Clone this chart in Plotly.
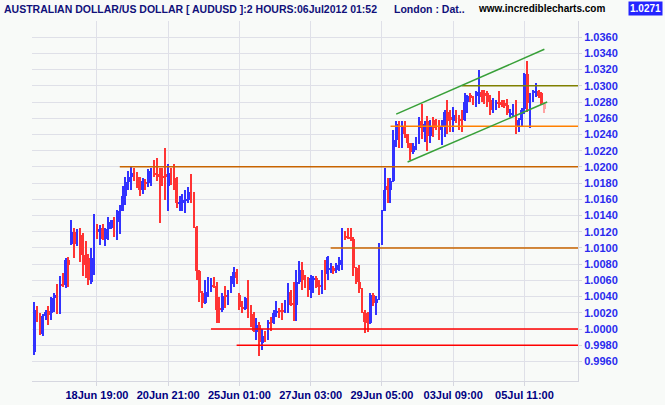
import plotly.graph_objects as go

# ---- OHLC data (2-hour bars, AUD/USD) ----
opens = [0.9972,1.0021,1.0014,0.9994,1.0016,1.0022,1.0020,1.0038,1.0040,1.0026,
         1.0055,1.0054,1.0085,1.0105,1.0120,1.0105,1.0121,1.0116,1.0091,1.0087,
         1.0058,1.0087,1.0127,1.0120,1.0124,1.0111,1.0123,1.0125,1.0133,1.0126,
         1.0132,1.0146,1.0164,1.0181,1.0187,1.0191,1.0187,1.0187,1.0171,1.0181,
         1.0180,1.0194,1.0195,1.0192,1.0191,1.0188,1.0191,1.0176,1.0192,1.0193,
         1.0186,1.0155,1.0155,1.0159,1.0159,1.0169,1.0167,1.0126,1.0071,1.0045,
         1.0032,1.0046,1.0048,1.0054,1.0053,1.0026,1.0024,1.0041,1.0040,1.0046,
         1.0056,1.0070,1.0042,1.0027,1.0025,1.0038,1.0017,1.0019,0.9996,1.0005,
         0.9983,0.9991,0.9989,1.0008,1.0007,1.0020,1.0024,1.0024,1.0021,1.0033,
         1.0046,1.0032,1.0030,1.0058,1.0073,1.0063,1.0058,1.0048,1.0061,1.0063,
         1.0054,1.0053,1.0070,1.0068,1.0073,1.0075,1.0073,1.0079,1.0085,1.0115,
         1.0115,1.0113,1.0111,1.0075,1.0058,1.0048,1.0021,1.0020,1.0007,1.0042,
         1.0032,1.0037,1.0104,1.0146,1.0176,1.0171,1.0182,1.0233,1.0250,1.0233,
         1.0250,1.0241,1.0229,1.0218,1.0226,1.0229,1.0256,1.0243,1.0256,1.0238,
         1.0258,1.0258,1.0252,1.0245,1.0250,1.0268,1.0262,1.0256,1.0260,1.0260,
         1.0259,1.0258,1.0280,1.0289,1.0285,1.0280,1.0287,1.0292,1.0291,1.0291,
         1.0282,1.0272,1.0276,1.0280,1.0280,1.0279,1.0276,1.0264,1.0266,1.0268,
         1.0250,1.0258,1.0271,1.0314,1.0272,1.0286,1.0292,1.0293,1.0291,1.0278]
highs = [1.0033,1.0028,1.0020,1.0019,1.0023,1.0028,1.0040,1.0044,1.0055,1.0065,
         1.0069,1.0087,1.0089,1.0134,1.0124,1.0123,1.0124,1.0118,1.0108,1.0093,
         1.0100,1.0142,1.0129,1.0128,1.0129,1.0124,1.0138,1.0135,1.0138,1.0147,
         1.0153,1.0176,1.0188,1.0195,1.0200,1.0198,1.0194,1.0187,1.0186,1.0185,
         1.0197,1.0199,1.0208,1.0211,1.0199,1.0198,1.0223,1.0204,1.0199,1.0204,
         1.0187,1.0164,1.0167,1.0171,1.0175,1.0191,1.0169,1.0127,1.0073,1.0047,
         1.0060,1.0064,1.0063,1.0064,1.0058,1.0040,1.0044,1.0053,1.0048,1.0065,
         1.0076,1.0074,1.0044,1.0034,1.0039,1.0061,1.0030,1.0021,1.0013,1.0009,
         1.0000,0.9998,1.0011,1.0015,1.0024,1.0034,1.0026,1.0032,1.0036,1.0057,
         1.0048,1.0058,1.0073,1.0084,1.0083,1.0067,1.0064,1.0067,1.0065,1.0065,
         1.0061,1.0073,1.0085,1.0090,1.0081,1.0078,1.0081,1.0089,1.0125,1.0121,
         1.0125,1.0124,1.0113,1.0077,1.0079,1.0050,1.0023,1.0021,1.0044,1.0044,
         1.0041,1.0106,1.0147,1.0198,1.0186,1.0186,1.0246,1.0257,1.0256,1.0257,
         1.0256,1.0241,1.0230,1.0229,1.0237,1.0262,1.0278,1.0256,1.0263,1.0258,
         1.0262,1.0259,1.0258,1.0258,1.0270,1.0283,1.0270,1.0274,1.0270,1.0264,
         1.0270,1.0291,1.0289,1.0291,1.0287,1.0294,1.0320,1.0295,1.0295,1.0293,
         1.0289,1.0285,1.0282,1.0293,1.0282,1.0282,1.0284,1.0271,1.0278,1.0283,
         1.0260,1.0272,1.0316,1.0330,1.0291,1.0295,1.0303,1.0295,1.0292,1.0280]
lows = [0.9968,1.0009,0.9993,0.9991,1.0011,1.0005,1.0011,1.0021,1.0019,1.0019,
        1.0052,1.0051,1.0052,1.0104,1.0087,1.0102,1.0083,1.0065,1.0063,1.0054,
        1.0056,1.0067,1.0111,1.0104,1.0110,1.0102,1.0110,1.0123,1.0114,1.0110,
        1.0117,1.0145,1.0153,1.0171,1.0171,1.0182,1.0174,1.0164,1.0167,1.0171,
        1.0175,1.0176,1.0187,1.0182,1.0131,1.0176,1.0159,1.0145,1.0178,1.0172,
        1.0149,1.0146,1.0145,1.0143,1.0155,1.0155,1.0125,1.0061,1.0033,1.0026,
        1.0031,1.0040,1.0046,1.0051,1.0007,1.0007,1.0021,1.0026,1.0030,1.0045,
        1.0052,1.0056,1.0024,1.0020,1.0024,1.0014,1.0003,0.9996,0.9987,0.9967,
        0.9974,0.9984,0.9987,0.9998,1.0006,1.0015,1.0013,1.0011,1.0020,1.0020,
        1.0028,1.0010,1.0010,1.0056,1.0048,1.0050,1.0040,1.0038,1.0044,1.0050,
        1.0042,1.0043,1.0048,1.0060,1.0069,1.0068,1.0069,1.0071,1.0073,1.0110,
        1.0111,1.0108,1.0065,1.0056,1.0044,1.0020,0.9995,0.9996,1.0006,1.0028,
        1.0017,1.0036,1.0104,1.0145,1.0156,1.0155,1.0181,1.0225,1.0223,1.0223,
        1.0235,1.0223,1.0209,1.0216,1.0221,1.0228,1.0234,1.0231,1.0220,1.0230,
        1.0237,1.0245,1.0233,1.0227,1.0237,1.0241,1.0243,1.0243,1.0254,1.0245,
        1.0243,1.0256,1.0266,1.0280,1.0276,1.0274,1.0278,1.0280,1.0278,1.0274,
        1.0264,1.0266,1.0270,1.0272,1.0274,1.0272,1.0264,1.0262,1.0262,1.0241,
        1.0243,1.0250,1.0265,1.0268,1.0248,1.0280,1.0286,1.0285,1.0276,1.0267]
closes = [1.0023,1.0011,0.9994,1.0016,1.0021,1.0017,1.0038,1.0042,1.0026,1.0055,
          1.0054,1.0085,1.0079,1.0120,1.0105,1.0121,1.0115,1.0091,1.0079,1.0060,
          1.0087,1.0127,1.0120,1.0123,1.0111,1.0123,1.0132,1.0134,1.0125,1.0132,
          1.0146,1.0164,1.0181,1.0187,1.0192,1.0190,1.0185,1.0171,1.0183,1.0180,
          1.0195,1.0195,1.0194,1.0190,1.0188,1.0187,1.0188,1.0192,1.0189,1.0188,
          1.0156,1.0156,1.0159,1.0160,1.0169,1.0167,1.0126,1.0071,1.0045,1.0032,
          1.0046,1.0052,1.0053,1.0053,1.0024,1.0024,1.0041,1.0040,1.0043,1.0056,
          1.0070,1.0063,1.0027,1.0025,1.0038,1.0019,1.0016,0.9997,1.0005,0.9984,
          0.9991,0.9987,1.0008,1.0007,1.0020,1.0021,1.0021,1.0021,1.0031,1.0046,
          1.0030,1.0030,1.0058,1.0073,1.0061,1.0060,1.0048,1.0063,1.0063,1.0052,
          1.0053,1.0070,1.0066,1.0089,1.0075,1.0071,1.0079,1.0085,1.0115,1.0113,
          1.0113,1.0112,1.0075,1.0058,1.0049,1.0021,1.0009,1.0008,1.0042,1.0032,
          1.0037,1.0104,1.0146,1.0172,1.0172,1.0182,1.0233,1.0253,1.0233,1.0241,
          1.0240,1.0229,1.0218,1.0226,1.0230,1.0256,1.0248,1.0253,1.0238,1.0250,
          1.0248,1.0250,1.0245,1.0250,1.0268,1.0256,1.0258,1.0264,1.0259,1.0258,
          1.0257,1.0280,1.0287,1.0285,1.0282,1.0287,1.0292,1.0286,1.0287,1.0280,
          1.0270,1.0278,1.0278,1.0278,1.0276,1.0275,1.0266,1.0267,1.0272,1.0250,
          1.0258,1.0270,1.0314,1.0279,1.0286,1.0292,1.0293,1.0288,1.0279,1.0271]

tick_index = [22, 47, 72, 97, 122, 147, 172]
tick_labels = ["18Jun 19:00", "20Jun 21:00", "25Jun 01:00", "27Jun 03:00",
               "29Jun 05:00", "03Jul 09:00", "05Jul 11:00"]
price_ticks = [0.9960, 0.9980, 1.0000, 1.0020, 1.0040, 1.0060, 1.0080, 1.0100,
               1.0120, 1.0140, 1.0160, 1.0180, 1.0200, 1.0220, 1.0240, 1.0260,
               1.0280, 1.0300, 1.0320, 1.0340, 1.0360]

# horizontal support / resistance lines: level, starting bar, colour
hline_levels = [1.0200, 1.0100, 1.0000, 0.9980, 1.0250, 1.0300]
hline_starts = [30, 104, 62, 71, 125, 150]
hline_colors = ["#c86400", "#c86400", "#ff0000", "#ff0000", "#ff8000", "#808000"]

# trend channel
chan_upper_x = [127, 179]
chan_upper_y = [1.0265, 1.0345]
chan_lower_x = [131, 180]
chan_lower_y = [1.0206, 1.0280]

last_price = "1.0271"

UP = "#3232ff"
DOWN = "#ff3434"
LAST = "#ffa4a4"

n = len(opens)
idx = list(range(n))
colors = []
for i in idx:
    if i == n - 1:
        colors.append(LAST)
    elif closes[i] >= opens[i]:
        colors.append(UP)
    else:
        colors.append(DOWN)

body_base = [min(o, c) for o, c in zip(opens, closes)]
body_len = [max(abs(c - o), 0.00013) for o, c in zip(opens, closes)]
wick_len = [h - l for h, l in zip(highs, lows)]

X_MIN, X_MAX = -0.8, 190.8
Y_MIN, Y_MAX = 0.99359, 1.03799

fig = go.Figure()

# horizontal lines
for lvl, st, col in zip(hline_levels, hline_starts, hline_colors):
    fig.add_trace(go.Scatter(x=[st, X_MAX], y=[lvl, lvl], mode="lines",
                             line=dict(color=col, width=1.5), hoverinfo="skip",
                             showlegend=False))

# channel
for cx, cy in ((chan_upper_x, chan_upper_y), (chan_lower_x, chan_lower_y)):
    fig.add_trace(go.Scatter(x=cx, y=cy, mode="lines",
                             line=dict(color="#38a038", width=1.5),
                             hoverinfo="skip", showlegend=False))

# wicks
fig.add_trace(go.Bar(x=idx, base=lows, y=wick_len, width=0.4,
                     marker=dict(color=colors, line=dict(width=0)),
                     hoverinfo="skip", showlegend=False))
# bodies
fig.add_trace(go.Bar(x=idx, base=body_base, y=body_len, width=0.95,
                     marker=dict(color=colors, line=dict(width=0)),
                     hoverinfo="skip", showlegend=False))

W, H = 665, 405
PLOT_L, PLOT_R, PLOT_T, PLOT_B = 32, 578, 21, 381
pw = PLOT_R - PLOT_L
ph = PLOT_B - PLOT_T

def px_x(p):  # page pixel -> paper coordinate
    return (p - PLOT_L) / pw

def px_y(p):
    return (PLOT_B - p) / ph

fig.update_layout(
    width=W, height=H, autosize=False,
    margin=dict(l=PLOT_L, r=W - PLOT_R, t=PLOT_T, b=H - PLOT_B, pad=0),
    paper_bgcolor="#f8faf8", plot_bgcolor="#f8faf8",
    barmode="overlay", bargap=0,
    showlegend=False,
    xaxis=dict(range=[X_MIN, X_MAX], tickmode="array", tickvals=tick_index,
               ticktext=tick_labels, showgrid=True, gridcolor="#dfe0e8",
               gridwidth=1, zeroline=False, showline=True, linecolor="#d6d7e0",
               ticks="outside", ticklen=4, tickcolor="#d6d7e0",
               automargin=False,
               tickfont=dict(family="Liberation Sans", size=11, color="#000080",
                             weight="bold"),
               fixedrange=True),
    yaxis=dict(range=[Y_MIN, Y_MAX], side="right", tickmode="array",
               tickvals=price_ticks, ticktext=[f"{v:.4f}" for v in price_ticks],
               showgrid=True, gridcolor="#dfe0e8", gridwidth=1, zeroline=False,
               showline=True, linecolor="#d6d7e0", ticks="outside", ticklen=3,
               tickcolor="#d6d7e0", automargin=False,
               tickfont=dict(family="Liberation Sans", size=11, color="#2a2aee",
                             weight="bold"),
               fixedrange=True),
    font=dict(family="Liberation Sans"),
)

fig.add_annotation(text="AUSTRALIAN DOLLAR/US DOLLAR [ AUDUSD ]:2 HOURS:06Jul2012 01:52",
                   xref="paper", yref="paper", x=px_x(2), y=px_y(9),
                   xanchor="left", yanchor="middle", showarrow=False,
                   font=dict(family="Liberation Sans", size=10.5, color="#10107a",
                             weight="bold"))
fig.add_annotation(text="London : Dat..",
                   xref="paper", yref="paper", x=px_x(392), y=px_y(9),
                   xanchor="left", yanchor="middle", showarrow=False,
                   font=dict(family="Liberation Sans", size=10.5, color="#10107a",
                             weight="bold"))
fig.add_annotation(text="www.incrediblecharts.com",
                   xref="paper", yref="paper", x=px_x(476), y=px_y(9),
                   xanchor="left", yanchor="middle", showarrow=False,
                   font=dict(family="Liberation Sans", size=10, color="#000000",
                             weight="bold"))
fig.add_annotation(text=last_price,
                   xref="paper", yref="paper", x=px_x(645), y=px_y(9),
                   xanchor="center", yanchor="middle", showarrow=False,
                   bgcolor="#2424ff", borderpad=1,
                   font=dict(family="Liberation Sans", size=10, color="#ffffff",
                             weight="bold"))

# remove the default 8px page margin so the figure sits at the window origin
fig.write_html("out.html", config={"displayModeBar": False},
               post_script="document.body.style.margin='0px';")
